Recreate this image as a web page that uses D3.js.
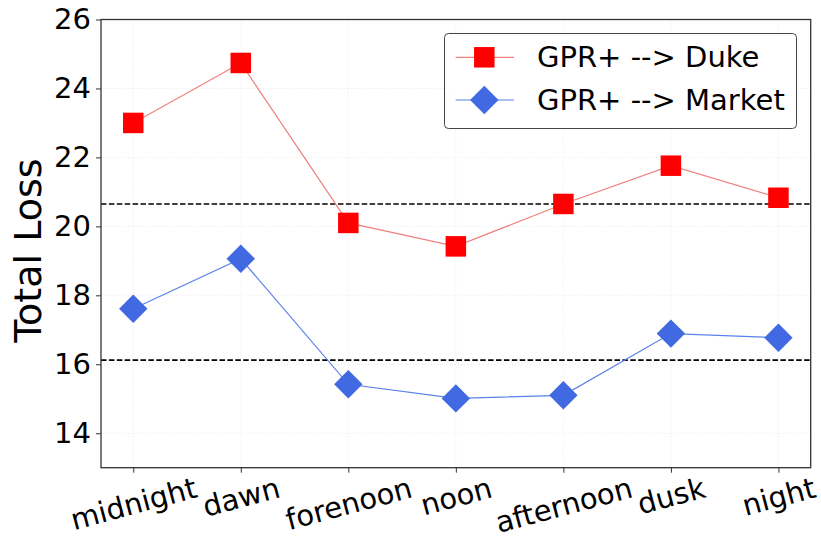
<!DOCTYPE html>
<html>
<head>
<meta charset="utf-8">
<script src="https://cdn.jsdelivr.net/npm/d3@7"></script>
<style>
  html, body { margin: 0; padding: 0; background: #fff; }
  svg { display: block; font-family: "DejaVu Sans", sans-serif; }
</style>
</head>
<body>
<svg id="chart" width="821" height="536"></svg>
<script>
const categories = ["midnight", "dawn", "forenoon", "noon", "afternoon", "dusk", "night"];
const dukeValues = [23.0, 24.74, 20.1, 19.42, 20.65, 21.76, 20.83];
const marketValues = [17.61, 19.06, 15.42, 15.01, 15.1, 16.89, 16.77];
const refLines = [20.65, 16.12];
const yTicks = [14, 16, 18, 20, 22, 24, 26];
const seriesNames = ["GPR+ --> Duke", "GPR+ --> Market"];

const svg = d3.select("#chart");
const pL = 101, pR = 810.7, pT = 19.5, pB = 467.7;

const x = d3.scalePoint().domain(categories).range([pL, pR]).padding(0.3);
const y = d3.scaleLinear().domain([13, 26]).range([pB, pT]);

svg.append("rect").attr("width", 821).attr("height", 536).attr("fill", "#fff");

// grid
const grid = svg.append("g");
yTicks.forEach(t => {
  grid.append("line").attr("x1", pL).attr("x2", pR).attr("y1", y(t)).attr("y2", y(t))
    .attr("stroke", "#e6e6e6").attr("stroke-width", 0.8).attr("stroke-dasharray", "1,2");
});
categories.forEach(c => {
  grid.append("line").attr("x1", x(c)).attr("x2", x(c)).attr("y1", pT).attr("y2", pB)
    .attr("stroke", "#e6e6e6").attr("stroke-width", 0.8).attr("stroke-dasharray", "1,2");
});

// reference dashed lines
refLines.forEach(v => {
  svg.append("line").attr("x1", pL).attr("x2", pR).attr("y1", y(v)).attr("y2", y(v))
    .attr("stroke", "#000").attr("stroke-width", 1.6).attr("stroke-dasharray", "5.5,2.4");
});

// lines
const line = d3.line().x((d, i) => x(categories[i])).y(d => y(d));
svg.append("path").datum(dukeValues).attr("d", line).attr("fill", "none")
  .attr("stroke", "#f08080").attr("stroke-width", 1.2);
svg.append("path").datum(marketValues).attr("d", line).attr("fill", "none")
  .attr("stroke", "#5b82ea").attr("stroke-width", 1.2);

// markers
const sq = 20.5, dia = 14.2;
svg.append("g").selectAll("rect").data(dukeValues).join("rect")
  .attr("x", (d, i) => x(categories[i]) - sq / 2).attr("y", d => y(d) - sq / 2)
  .attr("width", sq).attr("height", sq).attr("fill", "#ff0000");
const diamond = (cx, cy) => `M${cx},${cy - dia}L${cx + dia},${cy}L${cx},${cy + dia}L${cx - dia},${cy}Z`;
svg.append("g").selectAll("path").data(marketValues).join("path")
  .attr("d", (d, i) => diamond(x(categories[i]), y(d))).attr("fill", "#4169e1");

// axes
const yAxis = svg.append("g").attr("transform", `translate(${pL},0)`)
  .call(d3.axisLeft(y).tickValues(yTicks).tickSize(5).tickPadding(5));
yAxis.select(".domain").remove();
yAxis.selectAll("text").attr("font-size", 29).attr("font-family", "DejaVu Sans").attr("fill", "#000");
yAxis.selectAll("line").attr("stroke", "#333");

const xAxis = svg.append("g").attr("transform", `translate(0,${pB})`)
  .call(d3.axisBottom(x).tickSize(5).tickPadding(5));
xAxis.select(".domain").remove();
xAxis.selectAll("line").attr("stroke", "#333");
const ang = 15 * Math.PI / 180;
xAxis.selectAll("text").each(function (d) {
  const t = d3.select(this);
  t.attr("font-size", 29).attr("font-family", "DejaVu Sans").attr("fill", "#000")
    .attr("y", null).attr("dy", null).attr("text-anchor", "middle")
    .attr("dominant-baseline", "central");
  const bb = this.getBBox();
  const H = bb.width * Math.sin(ang) + bb.height * Math.cos(ang);
  const cy = 3 + H / 2;
  t.attr("transform", `translate(0,${cy}) rotate(-15)`);
});

// spines
svg.append("rect").attr("x", pL).attr("y", pT).attr("width", pR - pL).attr("height", pB - pT)
  .attr("fill", "none").attr("stroke", "#333").attr("stroke-width", 1.3);

// y label
svg.append("text").attr("transform", `translate(41,${(pT + pB) / 2 + 7}) rotate(-90)`)
  .attr("text-anchor", "middle").attr("font-size", 38).attr("fill", "#000").text("Total Loss");

// legend
const lg = svg.append("g");
lg.append("rect").attr("x", 444.5).attr("y", 33.5).attr("width", 352).attr("height", 95)
  .attr("rx", 4).attr("fill", "#fff").attr("fill-opacity", 0.85).attr("stroke", "#444").attr("stroke-width", 1);
const legY = [57.3, 100];
const legColors = ["#f08080", "#5b82ea"];
legY.forEach((ly, i) => {
  lg.append("line").attr("x1", 455.7).attr("x2", 514).attr("y1", ly).attr("y2", ly)
    .attr("stroke", legColors[i]).attr("stroke-width", 1.2);
  if (i === 0) {
    lg.append("rect").attr("x", 484.3 - sq / 2).attr("y", ly - sq / 2).attr("width", sq).attr("height", sq).attr("fill", "#ff0000");
  } else {
    lg.append("path").attr("d", diamond(484.3, ly)).attr("fill", "#4169e1");
  }
  lg.append("text").attr("x", 537).attr("y", ly).attr("dominant-baseline", "central")
    .attr("font-size", 29).attr("fill", "#000").text(seriesNames[i]);
});
</script>
</body>
</html>
